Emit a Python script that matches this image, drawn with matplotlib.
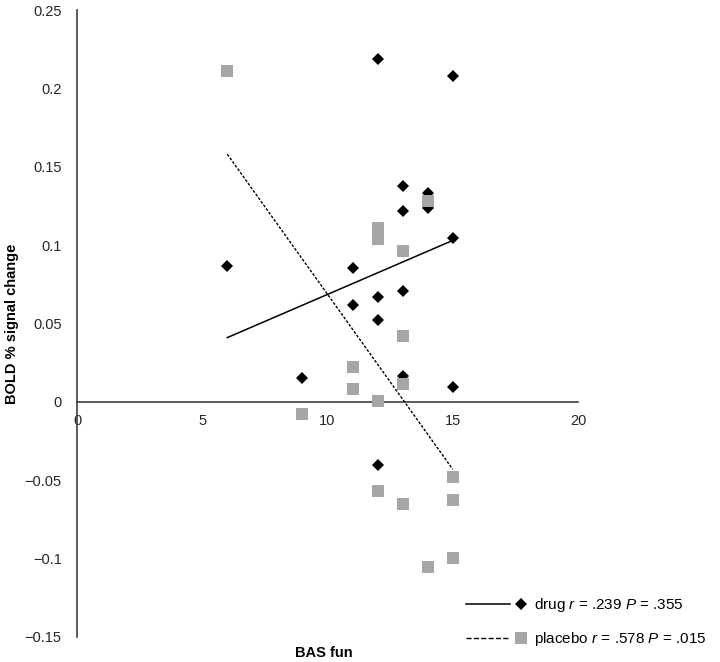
import numpy as np
import matplotlib.pyplot as plt
from matplotlib.lines import Line2D
from matplotlib.legend_handler import HandlerBase
from matplotlib.ticker import FuncFormatter

plt.rcParams['font.family'] = ['Liberation Sans', 'DejaVu Sans']
plt.rcParams['mathtext.fontset'] = 'custom'
plt.rcParams['mathtext.rm'] = 'Liberation Sans'
plt.rcParams['mathtext.it'] = 'Liberation Sans:italic'

# data
drug_x = [6, 9, 11, 11, 12, 12, 12, 12, 13, 13, 13, 13, 14, 14, 15, 15, 15]
drug_y = [0.087, 0.015, 0.0855, 0.062, 0.219, 0.067, 0.052, -0.040, 0.138,
          0.122, 0.0705, 0.0166, 0.133, 0.124, 0.208, 0.1047, 0.0092]
placebo_x = [6, 9, 11, 11, 12, 12, 12, 12, 13, 13, 13, 13, 14, 14, 15, 15, 15]
placebo_y = [0.211, -0.0075, 0.022, 0.0081, 0.111, 0.104, 0.0006, -0.057,
             0.0965, 0.042, 0.0113, -0.065, 0.128, -0.1055, -0.048, -0.0627, -0.0999]

# linear trendline ends
trend_x = [6, 15]
trend_drug = [0.041, 0.103]
trend_placebo = [0.158, -0.043]

drug_label = r'drug $r$ = .239 $P$ = .355'
placebo_label = r'placebo $r$ = .578 $P$ = .015'

grey = '#A6A6A6'

fig = plt.figure(figsize=(7.2, 6.62), dpi=100)
ax = fig.add_axes([77 / 720, 25 / 662, 501 / 720, 627 / 662])

ax.plot(drug_x, drug_y, ls='none', marker='D', ms=6.5, color='black', mew=0, zorder=3)
ax.plot(placebo_x, placebo_y, ls='none', marker='s', ms=8, color=grey, mew=0, zorder=3)
ax.plot(trend_x, trend_drug, color='black', lw=1.1, zorder=4)
ax.plot(trend_x, trend_placebo, color='black', lw=1.0, ls=(0, (2, 1.2)), zorder=4)

ax.set_xlim(0, 20)
ax.set_ylim(-0.15, 0.25)
ax.set_xticks([0, 5, 10, 15, 20])
ax.set_yticks(np.arange(-0.15, 0.26, 0.05))
ax.yaxis.set_major_formatter(FuncFormatter(lambda v, p: f'{round(v, 2):g}'.replace('-', '\u2212')))

for s in ['top', 'right']:
    ax.spines[s].set_visible(False)
ax.spines['bottom'].set_position(('data', 0))
ax.spines['left'].set_position(('data', 0))
for s in ['bottom', 'left']:
    ax.spines[s].set_color('#404040')
    ax.spines[s].set_linewidth(1.2)
ax.tick_params(axis='x', length=0, pad=9, labelsize=10.5, colors='#262626')
ax.tick_params(axis='y', length=0, pad=11, labelsize=10.5, colors='#262626')

ax.set_ylabel('BOLD % signal change', fontsize=10.5, fontweight='bold')
ax.yaxis.set_label_coords(-0.115, 0.5)
fig.text(324 / 720, 1 - 653 / 662, 'BAS fun', fontsize=10.5, fontweight='bold',
         ha='center', va='center')


class LineThenMarker(HandlerBase):
    def create_artists(self, legend, orig_handle, xdescent, ydescent,
                       width, height, fontsize, trans):
        ln, mk = orig_handle
        y = height / 2 - ydescent
        x0 = -xdescent
        a = Line2D([x0, x0 + 0.72 * width], [y, y], color=ln.get_color(),
                   lw=ln.get_linewidth(), ls=ln.get_linestyle())
        b = Line2D([x0 + 0.9 * width], [y], ls='none', marker=mk.get_marker(),
                   ms=mk.get_markersize(), color=mk.get_color(), mew=0)
        a.set_transform(trans)
        b.set_transform(trans)
        return [a, b]


h_drug = (Line2D([], [], color='black', lw=1.1),
          Line2D([], [], marker='D', ms=6.5, color='black'))
h_plac = (Line2D([], [], color='black', lw=1.0, ls=(0, (2, 1.2))),
          Line2D([], [], marker='s', ms=8, color=grey))
fig.legend([h_drug, h_plac], [drug_label, placebo_label],
           handler_map={tuple: LineThenMarker()},
           loc='lower left', bbox_to_anchor=(466 / 720, 14 / 662),
           frameon=False, fontsize=11, handlelength=4.0, handletextpad=0.45,
           labelspacing=1.05, borderpad=0, borderaxespad=0)

fig.savefig('out.png', dpi=100)
